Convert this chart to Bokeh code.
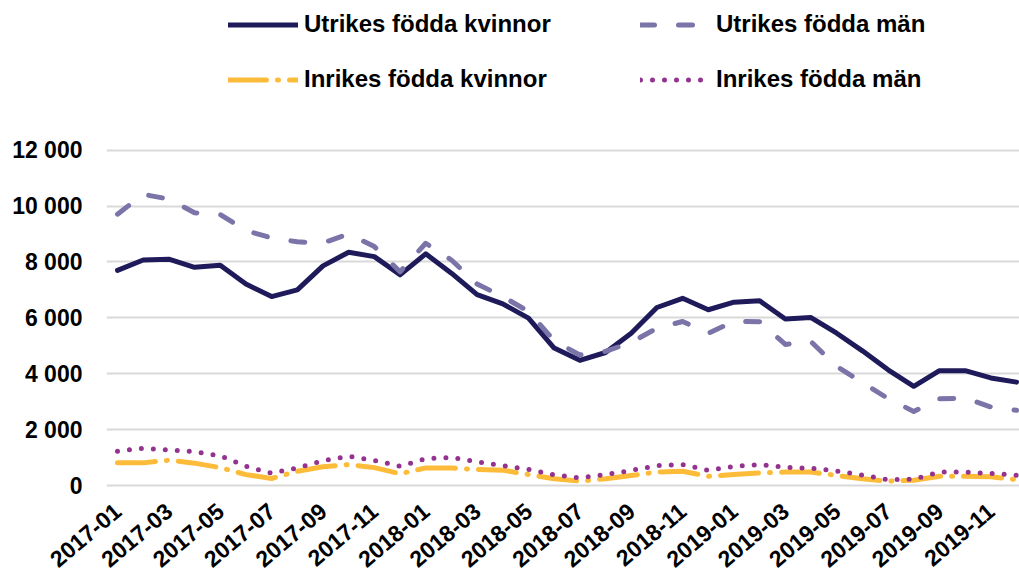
import math
from bokeh.plotting import figure
from bokeh.models import ColumnDataSource, Legend, LegendItem, FixedTicker, Range1d
from bokeh.embed import file_html
from bokeh.resources import INLINE

months = [f"{y}-{m:02d}" for y in (2017, 2018, 2019) for m in range(1, 13)]

utrikes_kvinnor = [7700, 8070, 8100, 7810, 7880, 7210, 6760, 7000, 7860, 8350, 8190, 7540,
                   8290, 7600, 6830, 6500, 5990, 4920, 4480, 4760, 5450, 6370, 6700, 6290,
                   6560, 6610, 5960, 6010, 5450, 4820, 4140, 3550, 4110, 4110, 3850, 3700]
utrikes_man = [9710, 10420, 10250, 9760, 9700, 9120, 8860, 8720, 8680, 9000, 8550, 7650,
               8670, 8070, 7210, 6760, 6230, 5180, 4670, 4800, 5120, 5630, 5870, 5450,
               5870, 5860, 5050, 5150, 4260, 3690, 3110, 2650, 3100, 3130, 2810, 2690]
inrikes_kvinnor = [810, 810, 905, 800, 640, 390, 250, 510, 670, 750, 640, 420,
                   630, 630, 570, 550, 390, 240, 155, 240, 360, 480, 510, 330,
                   390, 450, 480, 480, 360, 240, 155, 190, 330, 330, 310, 210]
inrikes_man = [1230, 1330, 1270, 1210, 1060, 690, 440, 630, 890, 1050, 900, 690,
               960, 1000, 850, 710, 580, 380, 270, 390, 540, 710, 750, 540,
               680, 750, 650, 620, 520, 370, 210, 230, 480, 480, 430, 370]

y_ticks = [0, 2000, 4000, 6000, 8000, 10000, 12000]

src = ColumnDataSource(dict(
    x=list(range(len(months))),
    uk=utrikes_kvinnor, um=utrikes_man, ik=inrikes_kvinnor, im=inrikes_man,
))

FONT = "Liberation Sans"

p = figure(width=1019, height=577, output_backend="svg", toolbar_location=None,
           x_range=Range1d(-0.428, 35.116), y_range=Range1d(-143, 17357),
           min_border_left=106, min_border_right=0, min_border_top=0, min_border_bottom=87)
p.outline_line_color = None
p.background_fill_color = "white"

r1 = p.line("x", "uk", source=src, line_color="#1F1B5B", line_width=5, line_join="round", line_cap="round")
r2 = p.line("x", "um", source=src, line_color="#7A74A8", line_width=5, line_dash="14 24",
            line_join="round", line_cap="round")
r3 = p.line("x", "ik", source=src, line_color="#FDBB3A", line_width=5, line_dash="38 11 1 11",
            line_join="round", line_cap="round")
r4 = p.line("x", "im", source=src, line_color="#94338F", line_width=5, line_dash="0 12",
            line_join="round", line_cap="round")

# axes
p.xaxis.ticker = FixedTicker(ticks=list(range(0, 36, 2)))
p.xaxis.major_label_overrides = {i: months[i] for i in range(0, 36, 2)}
p.xaxis.major_label_orientation = 0.70
p.yaxis.ticker = FixedTicker(ticks=y_ticks)
p.yaxis.major_label_overrides = {v: f"{v:,}".replace(",", " ") for v in y_ticks}
for ax in (p.xaxis, p.yaxis):
    ax.axis_line_color = None
    ax.major_tick_line_color = None
    ax.minor_tick_line_color = None
    ax.major_label_text_font = FONT
    ax.major_label_text_font_style = "bold"
    ax.major_label_text_font_size = "23px"
    ax.major_label_text_color = "black"
p.yaxis.major_label_standoff = 18
p.xaxis.major_label_standoff = 12

p.xgrid.grid_line_color = None
p.ygrid.grid_line_color = "#D9D9D9"
p.ygrid.grid_line_width = 2

def make_legend(items, loc):
    return Legend(items=items, location=loc, orientation="vertical", spacing=27,
                  padding=0, margin=0, glyph_width=70, glyph_height=27, label_height=27,
                  label_standoff=6, border_line_color=None, background_fill_alpha=0,
                  label_text_font=FONT, label_text_font_style="bold",
                  label_text_font_size="24px", label_text_color="black")

leg1 = make_legend([LegendItem(label="Utrikes födda kvinnor", renderers=[r1]),
                    LegendItem(label="Inrikes födda kvinnor", renderers=[r3])], (122, 396))
leg2 = make_legend([LegendItem(label="Utrikes födda män", renderers=[r2]),
                    LegendItem(label="Inrikes födda män", renderers=[r4])], (534, 396))
p.add_layout(leg1)
p.add_layout(leg2)

open("out.html", "w").write(file_html(p, INLINE))
